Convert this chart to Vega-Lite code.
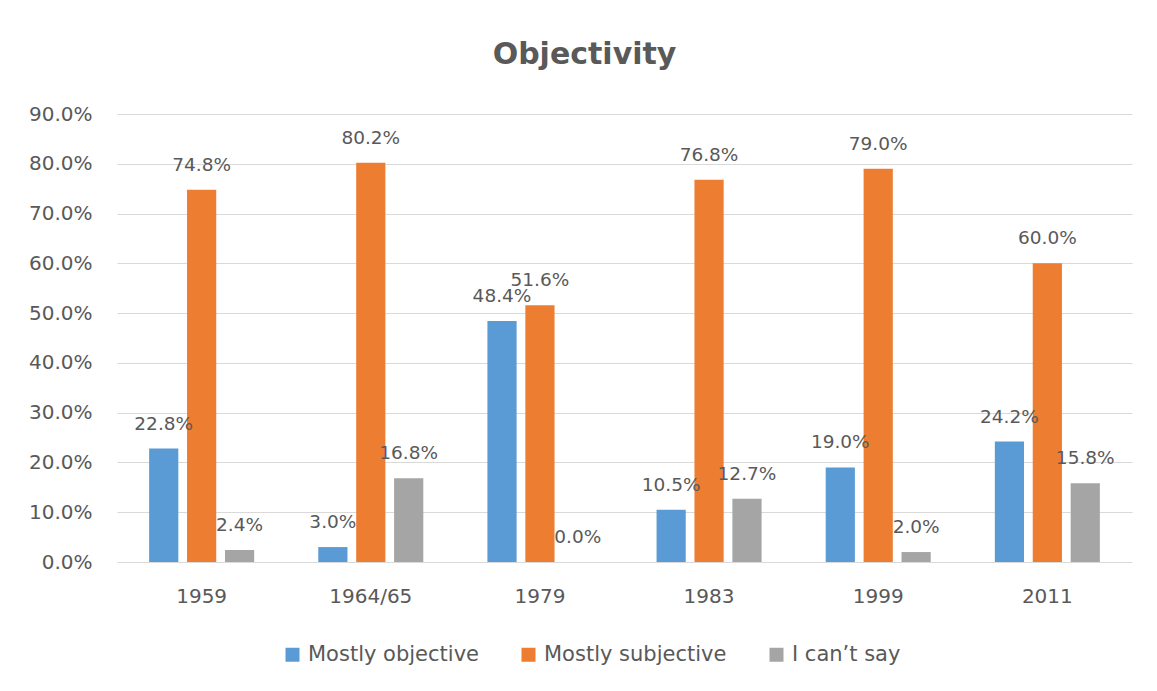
{
  "$schema": "https://vega.github.io/schema/vega-lite/v6.json",
  "autosize": {"type": "none"},
  "width": 1015,
  "height": 448,
  "padding": {"left": 117, "top": 114, "right": 25, "bottom": 129},
  "background": "white",
  "title": {
    "text": "Objectivity",
    "anchor": "middle",
    "dx": -40,
    "offset": 10,
    "baseline": "alphabetic",
    "font": "DejaVu Sans",
    "fontSize": 30,
    "fontWeight": "bold",
    "color": "#595959"
  },
  "data": {
    "values": [
      {"year": "1959", "series": "Mostly objective", "share": 0.228},
      {"year": "1959", "series": "Mostly subjective", "share": 0.748},
      {"year": "1959", "series": "I can’t say", "share": 0.024},
      {"year": "1964/65", "series": "Mostly objective", "share": 0.030},
      {"year": "1964/65", "series": "Mostly subjective", "share": 0.802},
      {"year": "1964/65", "series": "I can’t say", "share": 0.168},
      {"year": "1979", "series": "Mostly objective", "share": 0.484},
      {"year": "1979", "series": "Mostly subjective", "share": 0.516},
      {"year": "1979", "series": "I can’t say", "share": 0.0},
      {"year": "1983", "series": "Mostly objective", "share": 0.105},
      {"year": "1983", "series": "Mostly subjective", "share": 0.768},
      {"year": "1983", "series": "I can’t say", "share": 0.127},
      {"year": "1999", "series": "Mostly objective", "share": 0.190},
      {"year": "1999", "series": "Mostly subjective", "share": 0.790},
      {"year": "1999", "series": "I can’t say", "share": 0.020},
      {"year": "2011", "series": "Mostly objective", "share": 0.242},
      {"year": "2011", "series": "Mostly subjective", "share": 0.600},
      {"year": "2011", "series": "I can’t say", "share": 0.158}
    ]
  },
  "encoding": {
    "x": {
      "field": "year",
      "type": "nominal",
      "sort": null,
      "scale": {"paddingInner": 0.379, "paddingOuter": 0.19},
      "axis": {
        "title": null,
        "labelAngle": 0,
        "labelFont": "DejaVu Sans",
        "labelFontSize": 20,
        "labelColor": "#595959",
        "labelPadding": 24,
        "ticks": false,
        "domain": false
      }
    },
    "xOffset": {
      "field": "series",
      "type": "nominal",
      "sort": ["Mostly objective", "Mostly subjective", "I can’t say"],
      "scale": {"paddingInner": 0.23, "paddingOuter": 0}
    },
    "y": {
      "field": "share",
      "type": "quantitative",
      "scale": {"domain": [0, 0.9], "nice": false},
      "axis": {
        "title": null,
        "values": [0, 0.1, 0.2, 0.3, 0.4, 0.5, 0.6, 0.7, 0.8, 0.9],
        "format": ".1%",
        "labelFont": "DejaVu Sans",
        "labelFontSize": 20,
        "labelColor": "#595959",
        "labelPadding": 25,
        "ticks": false,
        "domain": false,
        "grid": true,
        "gridColor": "#D9D9D9",
        "gridWidth": 1
      }
    }
  },
  "layer": [
    {
      "mark": {"type": "bar"},
      "encoding": {
        "color": {
          "field": "series",
          "type": "nominal",
          "scale": {
            "domain": ["Mostly objective", "Mostly subjective", "I can’t say"],
            "range": ["#5B9BD5", "#ED7D31", "#A5A5A5"]
          },
          "legend": {
            "orient": "none",
            "legendX": 165,
            "legendY": 530,
            "direction": "horizontal",
            "columns": 3,
            "title": null,
            "symbolType": "square",
            "symbolSize": 196,
            "symbolStrokeWidth": 0,
            "symbolOpacity": 1,
            "labelFont": "DejaVu Sans",
            "labelFontSize": 21,
            "labelColor": "#595959",
            "labelOffset": 5,
            "labelLimit": 0,
            "columnPadding": 39
          }
        }
      }
    },
    {
      "mark": {
        "type": "text",
        "baseline": "alphabetic",
        "dy": -19,
        "font": "DejaVu Sans",
        "fontSize": 18.5,
        "color": "#595959"
      },
      "encoding": {
        "text": {"field": "share", "type": "quantitative", "format": ".1%"}
      }
    }
  ],
  "config": {
    "view": {"stroke": null}
  }
}
